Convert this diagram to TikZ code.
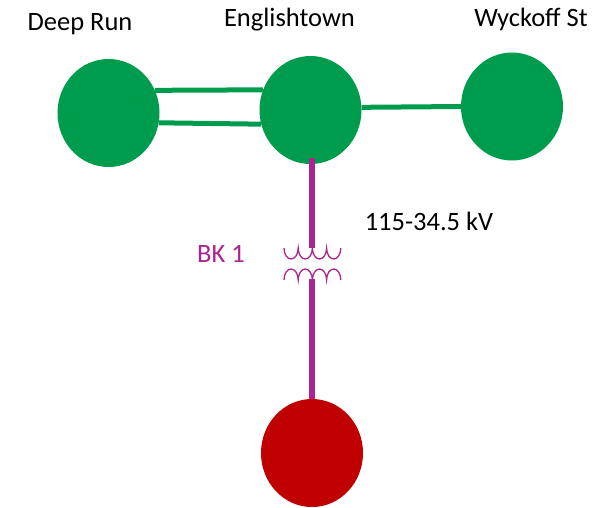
\documentclass[tikz,border=0pt]{standalone}
\usepackage{fontspec}
\setmainfont{Carlito}
\usetikzlibrary{shapes.geometric}
\definecolor{busgreen}{HTML}{009C4D}
\definecolor{busred}{HTML}{C00000}
\definecolor{xfmr}{HTML}{AA2590}
\tikzset{
  bus/.style={ellipse,inner sep=0pt,minimum width=102pt,minimum height=108pt,fill=#1},
  feeder/.style={draw=busgreen,line width=5pt},
  bank/.style={draw=xfmr,line width=5.5pt},
  coil/.style={draw=xfmr,line width=1.3pt},
  lab/.style={font=\fontsize{26.5pt}{30pt}\selectfont,inner sep=0pt,anchor=base},
}
\begin{document}
\begin{tikzpicture}[x=1pt,y=-1pt]
\useasboundingbox (0,0) rectangle (605,507);
\node[bus=busgreen] (deep) at (108.5,113) {};
\node[bus=busgreen] (engl) at (310.5,110) {};
\node[bus=busgreen] (wyck) at (512,106.5) {};
\node[bus=busred] (low) at (312,453) {};
\coordinate (top) at (312,158);
\coordinate (t1) at (312,248);
\coordinate (t2) at (312,279);
\draw[feeder] (deep.26) -- (engl.157);
\draw[feeder] (deep.-11) -- (engl.196);
\draw[feeder] (engl.3) -- (wyck.180);
\draw[bank] (top) -- (t1);
\draw[bank] (t2) -- (low.north);
\draw[coil] (284,248) arc[start angle=180,end angle=0,x radius=7.1,y radius=11]
  arc[start angle=180,end angle=0,x radius=7.1,y radius=11]
  arc[start angle=180,end angle=0,x radius=7.1,y radius=11]
  arc[start angle=180,end angle=0,x radius=7.1,y radius=11];
\draw[coil] (284,280) arc[start angle=180,end angle=360,x radius=7.1,y radius=11]
  arc[start angle=180,end angle=360,x radius=7.1,y radius=11]
  arc[start angle=180,end angle=360,x radius=7.1,y radius=11]
  arc[start angle=180,end angle=360,x radius=7.1,y radius=11];
\node[lab] (n1) at (80,30) {Deep Run};
\node[lab] (n2) at (289.5,26) {Englishtown};
\node[lab] (n3) at (531,26) {Wyckoff St};
\node[lab] (n4) at (429,230) {115-34.5 kV};
\node[lab,text=xfmr] (n5) at (221,262) {BK 1};
\end{tikzpicture}
\end{document}
